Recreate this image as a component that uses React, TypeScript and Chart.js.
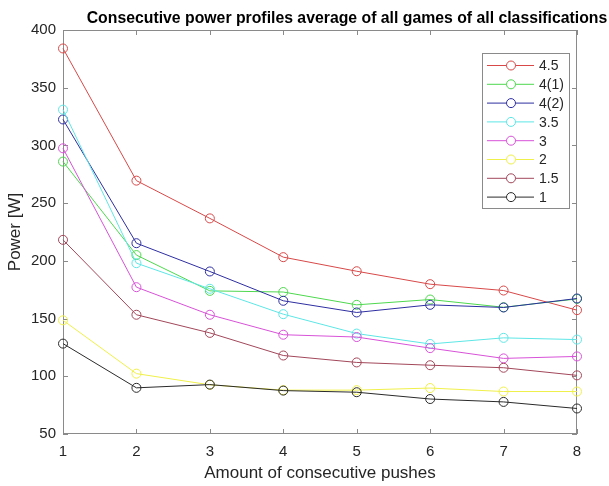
import { useEffect, useRef } from 'react';
import { Chart, registerables } from 'chart.js';

Chart.register(...registerables);

// Number of consecutive pushes (x axis)
const pushes = [1, 2, 3, 4, 5, 6, 7, 8];

// Average power [W] per classification
const class45 = [384, 269.5, 236.8, 203.2, 191, 179.8, 174.3, 157.3];
const class4a = [286, 205, 174, 173, 161.9, 166.5, 159.8, 167];
const class4b = [322.5, 215.3, 190.8, 165.4, 155.3, 161.9, 159.6, 167.4];
const class35 = [331, 198, 175.8, 153.8, 137, 128, 133.3, 131.8];
const class3 = [297.5, 177.2, 153.3, 136, 134, 124.4, 115.5, 117.2];
const class2 = [148.5, 102.3, 92.6, 88, 88, 89.8, 86.8, 86.8];
const class15 = [218.2, 153.3, 137.6, 118, 112, 109.6, 107.4, 100.8];
const class1 = [128.3, 90, 92.8, 87.6, 86.2, 80.3, 77.8, 72.1];

const seriesNames = ['4.5', '4(1)', '4(2)', '3.5', '3', '2', '1.5', '1'];
const seriesValues = [class45, class4a, class4b, class35, class3, class2, class15, class1];
const seriesColors = ['#d84848', '#4ed84e', '#2e2ea2', '#5ee6e6', '#d852d8', '#f0f04a', '#a2475a', '#2a2a2a'];

const titleText = 'Consecutive power profiles average of all games of all classifications';
const xTitle = 'Amount of consecutive pushes';
const yTitle = 'Power [W]';

const FONT = "'Liberation Sans', Arial, sans-serif";
const AXIS_GRAY = '#8a8a8a';
const TEXT_COLOR = '#262626';

// Box around the axes with inward tick marks on every side
const axesFrame = {
  id: 'axesFrame',
  beforeDatasetsDraw(chart: any) {
    const { ctx, chartArea: a, scales } = chart;
    const tick = 5;
    ctx.save();
    ctx.strokeStyle = AXIS_GRAY;
    ctx.lineWidth = 1;
    ctx.strokeRect(a.left + 0.5, a.top + 0.5, a.right - a.left - 1, a.bottom - a.top - 1);
    ctx.beginPath();
    scales.x.ticks.forEach((t: any) => {
      const px = Math.round(scales.x.getPixelForValue(t.value)) + 0.5;
      ctx.moveTo(px, a.bottom);
      ctx.lineTo(px, a.bottom - tick);
      ctx.moveTo(px, a.top);
      ctx.lineTo(px, a.top + tick);
    });
    scales.y.ticks.forEach((t: any) => {
      const py = Math.round(scales.y.getPixelForValue(t.value)) + 0.5;
      ctx.moveTo(a.left, py);
      ctx.lineTo(a.left + tick, py);
      ctx.moveTo(a.right, py);
      ctx.lineTo(a.right - tick, py);
    });
    ctx.stroke();
    ctx.restore();
  },
  afterDraw(chart: any) {
    const { ctx, chartArea: a } = chart;
    ctx.save();
    ctx.fillStyle = '#000';
    // Title
    ctx.font = `bold 15.8px ${FONT}`;
    ctx.textAlign = 'center';
    ctx.textBaseline = 'alphabetic';
    ctx.fillText(titleText, 347, 23);
    // Axis titles
    ctx.fillStyle = TEXT_COLOR;
    ctx.font = `17px ${FONT}`;
    ctx.fillText(xTitle, (a.left + a.right) / 2, 478);
    ctx.save();
    ctx.translate(20, (a.top + a.bottom) / 2);
    ctx.rotate(-Math.PI / 2);
    ctx.fillText(yTitle, 0, 0);
    ctx.restore();

    // Legend
    const bx = 482.5, by = 53.5, bw = 87, bh = 155;
    ctx.fillStyle = '#fff';
    ctx.fillRect(bx, by, bw, bh);
    ctx.strokeStyle = AXIS_GRAY;
    ctx.lineWidth = 1;
    ctx.strokeRect(bx, by, bw, bh);
    ctx.font = `14px ${FONT}`;
    ctx.textAlign = 'left';
    ctx.textBaseline = 'middle';
    seriesNames.forEach((name, i) => {
      const y = 65.5 + i * 18.8;
      ctx.strokeStyle = seriesColors[i];
      ctx.beginPath();
      ctx.moveTo(487, y);
      ctx.lineTo(534, y);
      ctx.stroke();
      ctx.fillStyle = '#fff';
      ctx.beginPath();
      ctx.arc(511, y, 4.5, 0, Math.PI * 2);
      ctx.fill();
      ctx.stroke();
      ctx.fillStyle = TEXT_COLOR;
      ctx.fillText(name, 539, y + 1);
    });
    ctx.restore();
  },
};

export default function App() {
  const canvasRef = useRef<HTMLCanvasElement | null>(null);

  useEffect(() => {
    const canvas = canvasRef.current;
    if (!canvas) return;
    const chart = new Chart(canvas, {
      type: 'line',
      data: {
        datasets: seriesValues.map((vals, i) => ({
          label: seriesNames[i],
          data: pushes.map((x, j) => ({ x, y: vals[j] })),
          borderColor: seriesColors[i],
          borderWidth: 1,
          pointStyle: 'circle',
          pointRadius: 4.5,
          pointBorderWidth: 1,
          pointBorderColor: seriesColors[i],
          pointBackgroundColor: 'rgba(0,0,0,0)',
          fill: false,
          tension: 0,
          clip: false,
          order: -i,
        })),
      },
      options: {
        responsive: false,
        animation: false,
        events: [],
        layout: { padding: { top: 30, right: 32, left: 0, bottom: 0 } },
        plugins: {
          legend: { display: false },
          title: { display: false },
          tooltip: { enabled: false },
        },
        scales: {
          x: {
            type: 'linear',
            min: 1,
            max: 8,
            ticks: { stepSize: 1, color: TEXT_COLOR, font: { family: FONT, size: 15 }, padding: 9 },
            grid: { display: false, drawTicks: false },
            border: { display: false },
            afterFit: (s: any) => { s.height = 52; },
          },
          y: {
            type: 'linear',
            min: 50,
            max: 400,
            ticks: { stepSize: 50, color: TEXT_COLOR, font: { family: FONT, size: 15 }, padding: 7 },
            grid: { display: false, drawTicks: false },
            border: { display: false },
            afterFit: (s: any) => { s.width = 63; },
          },
        },
      },
      plugins: [axesFrame],
    } as any);
    return () => chart.destroy();
  }, []);

  return (
    <div style={{ position: 'fixed', left: 0, top: 0, width: 609, height: 486, background: '#fff' }}>
      <canvas ref={canvasRef} width={609} height={486} />
    </div>
  );
}
